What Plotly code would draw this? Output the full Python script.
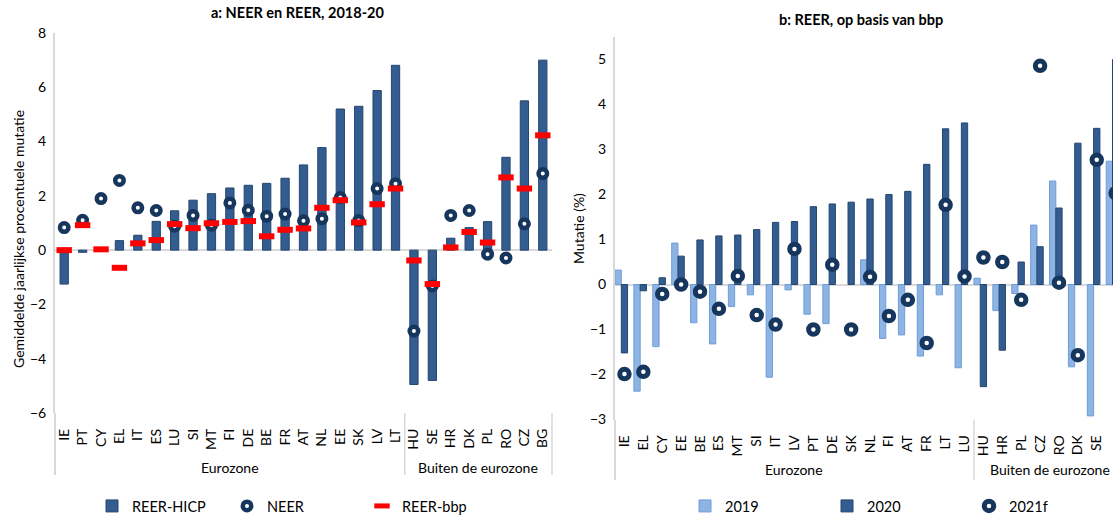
import plotly.graph_objects as go

W, H = 1113, 522
NAVY, BAR, BAR_EDGE = "#17365D", "#335D91", "#24466F"
LIGHT, LIGHT_EDGE, RED, AXIS = "#8EB4E3", "#6E9DD9", "#FF0000", "#D9D9D9"
FONT = "Lato, 'Open Sans', sans-serif"

# ---- panel a: NEER en REER, 2018-20
cat_a = ["IE", "PT", "CY", "EL", "IT", "ES", "LU", "SI", "MT", "FI", "DE", "BE", "FR", "AT",
         "NL", "EE", "SK", "LV", "LT", "HU", "SE", "HR", "DK", "PL", "RO", "CZ", "BG"]
reer_hicp = [-1.25, -0.08, 0.0, 0.35, 0.55, 1.06, 1.45, 1.84, 2.08, 2.29, 2.39, 2.46, 2.65, 3.14,
             3.78, 5.2, 5.3, 5.88, 6.81, -4.95, -4.8, 0.44, 0.83, 1.05, 3.42, 5.5, 7.0]
neer = [0.83, 1.1, 1.9, 2.57, 1.56, 1.46, 0.88, 1.28, 0.92, 1.74, 1.47, 1.25, 1.33, 1.08,
        1.16, 1.94, 1.09, 2.27, 2.45, -2.98, -1.32, 1.28, 1.46, -0.15, -0.29, 0.97, 2.82]
reer_bbp = [0.0, 0.92, 0.03, -0.65, 0.25, 0.37, 0.96, 0.81, 0.99, 1.04, 1.07, 0.51, 0.75, 0.8,
            1.56, 1.84, 1.02, 1.69, 2.27, -0.38, -1.25, 0.1, 0.67, 0.28, 2.68, 2.27, 4.23]

# ---- panel b: REER, op basis van bbp
cat_b = ["IE", "EL", "CY", "EE", "BE", "ES", "MT", "SI", "IT", "LV", "PT", "DE", "SK", "NL",
         "FI", "AT", "FR", "LT", "LU", "HU", "HR", "PL", "CZ", "RO", "DK", "SE", "BG"]
y2019 = [0.32, -2.37, -1.38, 0.92, -0.85, -1.32, -0.49, -0.23, -2.06, -0.12, -0.66, -0.87, None, 0.55,
         -1.2, -1.12, -1.59, -0.23, -1.85, 0.14, -0.58, -0.2, 1.32, 2.3, -1.83, -2.92, 2.74]
y2020 = [-1.52, -0.14, 0.15, 0.63, 0.99, 1.08, 1.1, 1.22, 1.38, 1.4, 1.73, 1.79, 1.83, 1.9,
         2.0, 2.07, 2.67, 3.46, 3.59, -2.27, -1.46, 0.5, 0.84, 1.7, 3.14, 3.47, 5.0]
y2021f = [-1.99, -1.94, -0.21, 0.0, -0.16, -0.54, 0.19, -0.68, -0.89, 0.79, -1.0, 0.44, -1.0, 0.17,
          -0.7, -0.34, -1.3, 1.77, 0.18, 0.6, 0.5, -0.34, 4.86, 0.04, -1.57, 2.77, 2.03]

n_euro = 19  # first 19 categories are eurozone in both panels

fig = go.Figure()
fig.add_bar(x=cat_a, y=reer_hicp, width=0.45, name="REER-HICP", legend="legend",
            marker=dict(color=BAR, line=dict(color=BAR_EDGE, width=1)))
fig.add_scatter(x=cat_a, y=neer, mode="markers", name="NEER", legend="legend",
                marker=dict(symbol="circle", size=8.5, color="white", line=dict(color=NAVY, width=4.5)))
fig.add_scatter(x=cat_a, y=reer_bbp, mode="markers", name="REER-bbp", legend="legend",
                marker=dict(symbol="line-ew", size=11, color=RED, line=dict(color=RED, width=6)))

fig.add_bar(x=cat_b, y=y2019, width=1/3, offset=-0.5, name="2019", legend="legend2",
            xaxis="x2", yaxis="y2", marker=dict(color=LIGHT, line=dict(color=LIGHT_EDGE, width=1)))
fig.add_bar(x=cat_b, y=y2020, width=1/3, offset=-1/6, name="2020", legend="legend2",
            xaxis="x2", yaxis="y2", marker=dict(color=BAR, line=dict(color=BAR_EDGE, width=1)))
fig.add_scatter(x=cat_b, y=y2021f, mode="markers", name="2021f", legend="legend2",
                xaxis="x2", yaxis="y2",
                marker=dict(symbol="circle", size=9.5, color="white", line=dict(color=NAVY, width=5)))

ax_common = dict(showgrid=False, automargin=False, fixedrange=True)
xa = dict(ax_common, type="category", tickangle=-90, ticks="", showline=False,
          tickfont=dict(size=14, color="#000"), ticklabelstandoff=12)
ya = dict(ax_common, showline=True, linecolor=AXIS, linewidth=2, ticks="",
          zeroline=True, zerolinecolor=AXIS, zerolinewidth=2,
          tickfont=dict(size=14, color="#000"), ticklabelstandoff=4)

legend_common = dict(orientation="h", y=0, xanchor="left", yanchor="bottom",
                     font=dict(size=14.5), bgcolor="rgba(0,0,0,0)")
fig.update_layout(
    width=W, height=H, margin=dict(l=0, r=0, t=0, b=0),
    paper_bgcolor="white", plot_bgcolor="white", font=dict(family=FONT, color="#000"),
    barmode="overlay",
    xaxis=dict(xa, domain=[55 / W, 552 / W], range=[-0.5, 26.5]),
    yaxis=dict(ya, domain=[1 - 413 / H, 1 - 33 / H], range=[-6, 8], dtick=2),
    xaxis2=dict(xa, domain=[615 / W, 1.0], range=[-0.5, 25.86], anchor="y2"),
    yaxis2=dict(ya, domain=[1 - 419.5 / H, 1 - 37 / H], range=[-3, 5.5], dtick=1, anchor="x2"),
    legend=dict(legend_common, x=92 / W, entrywidth=90),
    legend2=dict(legend_common, x=685 / W, entrywidth=97),
)

ann = [
    dict(text="<b>a: NEER en REER, 2018-20</b>", x=297, y=13),
    dict(text="<b>b: REER, op basis van bbp</b>", x=861, y=20),
]
for a in ann:
    fig.add_annotation(text=a["text"], xref="paper", yref="paper", x=a["x"] / W, y=1 - a["y"] / H,
                       showarrow=False, font=dict(size=14.5), xanchor="center", yanchor="middle")
fig.add_annotation(text="Gemiddelde jaarlijkse procentuele mutatie", textangle=-90, xref="paper",
                   yref="paper", x=18 / W, y=1 - 239 / H, showarrow=False, font=dict(size=14),
                   xanchor="center", yanchor="middle")
fig.add_annotation(text="Mutatie (%)", textangle=-90, xref="paper", yref="paper",
                   x=578 / W, y=1 - 228 / H, showarrow=False, font=dict(size=14),
                   xanchor="center", yanchor="middle")

# group labels + dividers under the category axes
for xr, ybot, ylab in [("x", 475, 467), ("x2", 480, 469)]:
    for text, xc in [("Eurozone", (n_euro - 1) / 2), ("Buiten de eurozone", (n_euro + 26) / 2)]:
        fig.add_annotation(text=text, xref=xr, yref="paper", x=xc, y=1 - ylab / H,
                           showarrow=False, font=dict(size=14), xanchor="center", yanchor="middle")
    ytop = 413 if xr == "x" else 419.5
    fig.add_shape(type="line", xref=xr, yref="paper", x0=n_euro - 0.5, x1=n_euro - 0.5,
                  y0=1 - ytop / H, y1=1 - ybot / H, line=dict(color=AXIS, width=1.5))
    fig.add_shape(type="line", xref=xr + " domain", yref="paper", x0=0, x1=0,
                  y0=1 - ytop / H, y1=1 - ybot / H, line=dict(color=AXIS, width=2))
fig.add_shape(type="line", xref="x domain", yref="paper", x0=1, x1=1,
              y0=1 - 413 / H, y1=1 - 475 / H, line=dict(color=AXIS, width=1.5))

fig.write_html("out.html", config={"displayModeBar": False},
               post_script="document.body.style.margin='0';")
